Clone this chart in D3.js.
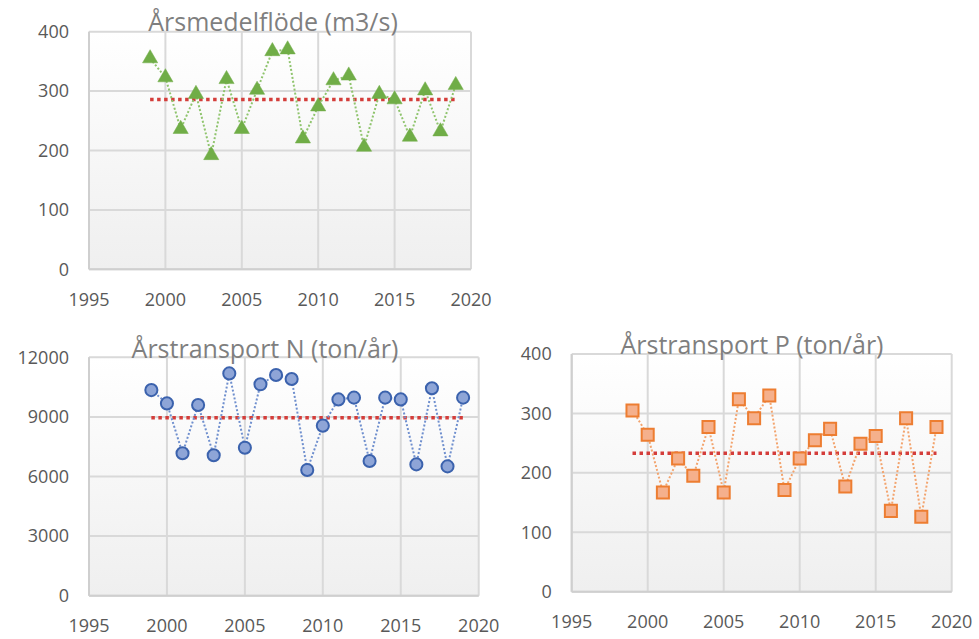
<!DOCTYPE html>
<html>
<head>
<meta charset="utf-8">
<script src="https://cdn.jsdelivr.net/npm/d3@7"></script>
<style>
  body { margin: 0; background: #fff; }
  svg { display: block; font-family: "Open Sans", "Liberation Sans", sans-serif; }
</style>
</head>
<body>
<svg width="979" height="639"></svg>
<script>
// Years shared by all three series
const years = [1999, 2000, 2001, 2002, 2003, 2004, 2005, 2006, 2007, 2008, 2009,
  2010, 2011, 2012, 2013, 2014, 2015, 2016, 2017, 2018, 2019];

// Values
const flow = [355, 323, 236, 295, 192, 320, 236, 302, 367, 370, 220,
  274, 318, 326, 206, 295, 286, 223, 301, 232, 310];
const nitrogen = [10350, 9680, 7170, 9600, 7070, 11190, 7450, 10640, 11110, 10910, 6330,
  8560, 9880, 9970, 6780, 9970, 9880, 6610, 10440, 6510, 9970];
const phosphorus = [305, 264, 167, 224, 195, 277, 167, 324, 292, 330, 171,
  224, 255, 274, 177, 249, 262, 136, 292, 126, 277];

// Long-term means (red dotted line)
const meanFlow = 286;
const meanN = 8960;
const meanP = 233;

// Tick labels
const xTicks = [1995, 2000, 2005, 2010, 2015, 2020];
const flowTicks = [0, 100, 200, 300, 400];
const nTicks = [0, 3000, 6000, 9000, 12000];
const pTicks = [0, 100, 200, 300, 400];

const titles = ["Årsmedelflöde (m3/s)", "Årstransport N (ton/år)", "Årstransport P (ton/år)"];

const svg = d3.select("svg");

// gradient used behind every plot area
const grad = svg.append("defs").append("linearGradient")
  .attr("id", "plotbg").attr("x1", 0).attr("y1", 0).attr("x2", 0).attr("y2", 1);
grad.append("stop").attr("offset", "0%").attr("stop-color", "#ffffff");
grad.append("stop").attr("offset", "100%").attr("stop-color", "#efefef");

function drawChart(opt) {
  const x = d3.scaleLinear().domain([1995, 2020]).range([opt.left, opt.right]);
  const y = d3.scaleLinear().domain([0, opt.ticks[opt.ticks.length - 1]]).range([opt.bottom, opt.top]);
  const g = svg.append("g");

  g.append("rect")
    .attr("x", opt.left).attr("y", opt.top)
    .attr("width", opt.right - opt.left).attr("height", opt.bottom - opt.top)
    .attr("fill", "url(#plotbg)");

  // gridlines
  g.selectAll(".hgrid").data(opt.ticks).enter().append("line")
    .attr("x1", opt.left).attr("x2", opt.right)
    .attr("y1", d => y(d)).attr("y2", d => y(d))
    .attr("stroke", "#d9d9d9").attr("stroke-width", 2);
  g.selectAll(".vgrid").data(xTicks).enter().append("line")
    .attr("x1", d => x(d)).attr("x2", d => x(d))
    .attr("y1", opt.top).attr("y2", opt.bottom)
    .attr("stroke", "#d9d9d9").attr("stroke-width", 2);

  // axis lines
  g.append("line").attr("x1", opt.left).attr("x2", opt.right)
    .attr("y1", opt.bottom).attr("y2", opt.bottom)
    .attr("stroke", "#cfcfcf").attr("stroke-width", 2);
  g.append("line").attr("x1", opt.left).attr("x2", opt.left)
    .attr("y1", opt.top).attr("y2", opt.bottom)
    .attr("stroke", "#cfcfcf").attr("stroke-width", 2);

  // tick labels
  g.selectAll(".ylab").data(opt.ticks).enter().append("text")
    .attr("x", opt.left - 20).attr("y", d => y(d))
    .attr("dy", "0.35em").attr("text-anchor", "end")
    .attr("font-size", 18).attr("fill", "#595959")
    .text(d => d);
  g.selectAll(".xlab").data(xTicks).enter().append("text")
    .attr("x", d => x(d)).attr("y", opt.bottom + 30)
    .attr("dy", "0.35em").attr("text-anchor", "middle")
    .attr("font-size", 18).attr("fill", "#595959")
    .text(d => d);

  // title
  g.append("text")
    .attr("x", opt.titleX).attr("y", opt.titleY)
    .attr("text-anchor", "middle")
    .attr("font-size", 25).attr("fill", "#7f7f7f")
    .text(opt.title);

  // mean line
  g.append("line")
    .attr("x1", x(years[0])).attr("x2", x(years[years.length - 1]))
    .attr("y1", y(opt.mean)).attr("y2", y(opt.mean))
    .attr("stroke", "#d43d3a").attr("stroke-width", 3.5)
    .attr("stroke-dasharray", "3.5,3.5");

  const pts = years.map((yr, i) => ({ year: yr, value: opt.values[i] }));

  // dotted connecting line
  g.append("path")
    .datum(pts)
    .attr("fill", "none")
    .attr("stroke", opt.lineColor).attr("stroke-width", 2)
    .attr("stroke-dasharray", "2,2")
    .attr("d", d3.line().x(d => x(d.year)).y(d => y(d.value)));

  // markers
  const sym = d3.symbol().type(opt.symbol).size(opt.symbolSize);
  g.selectAll(".pt").data(pts).enter().append("path")
    .attr("transform", d => `translate(${x(d.year)},${y(d.value)})`)
    .attr("d", sym)
    .attr("fill", opt.fill)
    .attr("stroke", opt.stroke).attr("stroke-width", opt.strokeWidth);
}

drawChart({
  values: flow, mean: meanFlow, ticks: flowTicks, title: titles[0],
  left: 89, right: 471, top: 31.7, bottom: 269.3, titleX: 273, titleY: 31,
  lineColor: "#8fc46d", symbol: d3.symbolTriangle, symbolSize: 100,
  fill: "#70ad47", stroke: "#70ad47", strokeWidth: 0.5
});

drawChart({
  values: nitrogen, mean: meanN, ticks: nTicks, title: titles[1],
  left: 89, right: 478.7, top: 357.3, bottom: 595.7, titleX: 265, titleY: 358,
  lineColor: "#6f8fce", symbol: d3.symbolCircle, symbolSize: 115,
  fill: "#8ea5d7", stroke: "#3b62ad", strokeWidth: 2
});

drawChart({
  values: phosphorus, mean: meanP, ticks: pTicks, title: titles[2],
  left: 571.7, right: 951.7, top: 354, bottom: 591.7, titleX: 752, titleY: 354,
  lineColor: "#f3a46e", symbol: d3.symbolSquare, symbolSize: 145,
  fill: "#f5b08c", stroke: "#ed7d31", strokeWidth: 2
});
</script>
</body>
</html>
